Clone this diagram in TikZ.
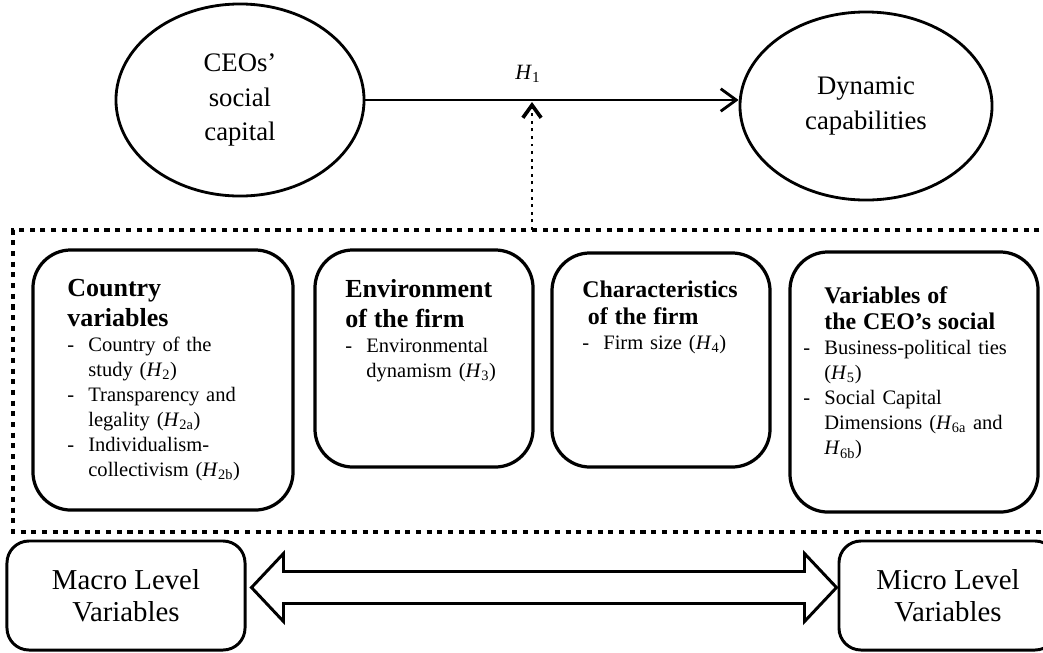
\documentclass[tikz,border=0pt]{standalone}
\usepackage{fontspec}
\setmainfont{Liberation Serif}
\usetikzlibrary{arrows.meta,calc,shapes.geometric}

\newcommand{\hyp}[1]{\textit{H}\textsubscript{#1}}
\newcommand{\itm}{\makebox[15pt][l]{-}}
\newcommand{\ind}{\hspace*{15pt}}
\newcommand{\boxfont}{\fontsize{14.6}{17.8}\selectfont\setlength{\parindent}{0pt}}
\newcommand{\titlebig}{\fontsize{18.5}{21.5}\selectfont\bfseries}
\newcommand{\titlesmall}{\fontsize{17}{19}\selectfont\bfseries}

\begin{document}
\begin{tikzpicture}[
            x=0.025cm, y=-0.025cm,
            main node/.style={ellipse,draw,line width=2pt,align=center,inner sep=0pt,font=\fontsize{19}{24.5}\selectfont},
            var box/.style={draw,line width=2.3pt,rounded corners=0.95cm,inner sep=0pt},
            level box/.style={draw,line width=2.1pt,rounded corners=0.55cm,align=center,inner sep=0pt,font=\fontsize{20.5}{22.5}\selectfont},
            box text/.style={anchor=north west,inner sep=0pt,text width=7cm,align=left,font=\boxfont},
            main arrow/.style={draw,line width=2pt,-{Straight Barb[length=11pt,width=16pt,line width=2pt]}},
            mod arrow/.style={draw,line width=2.1pt,dash pattern=on 2.1pt off 3.3pt,-{Straight Barb[length=9pt,width=13pt,line width=2.6pt]}},
            frame line/.style={draw,line width=3.5pt,dash pattern=on 3.6pt off 4pt},
            block arrow/.style={draw,line width=2.1pt,line join=miter},
        ]
            \useasboundingbox (0,0) rectangle (1043,652);
            \clip (0,0) rectangle (1043,652);

            % top: main relation
            \node[main node,minimum width=6.2cm,minimum height=4.8cm] (ceo) at (240,100) {CEOs’\\social\\capital};
            \node[main node,minimum width=6.3cm,minimum height=4.7cm] (dyn) at (866,106) {Dynamic\\capabilities};
            \node (h1) at (528,74) {\fontsize{15.5}{18}\selectfont\hyp{1}};
            \path[main arrow] (ceo.east) -- (ceo.east -| dyn.west);

            % moderators
            \coordinate (mod) at (532,230);
            \path[mod arrow] (mod) -- ++(0,-128);
            \path[frame line] (1050,230) -| (13,532) -- (1050,532);

            \node[var box,minimum width=6.5cm,minimum height=6.5cm] (country) at (163,380) {};
            \node[var box,minimum width=5.45cm,minimum height=5.425cm] (envir) at (424,358.5) {};
            \node[var box,minimum width=5.45cm,minimum height=5.35cm] (charac) at (661,360) {};
            \node[var box,minimum width=6.2cm,minimum height=6.5cm] (social) at (914,382) {};

            \node[box text] (country text) at (67,279) {{\titlebig Country\\variables\par}
                \itm Country of the\\\ind study (\hyp{2})\\
                \itm Transparency and\\\ind legality (\hyp{2a})\\
                \itm Individualism-\\\ind collectivism (\hyp{2b})};
            \node[box text] (envir text) at (345,279) {{\titlebig Environment\\of the firm\par}
                \itm Environmental\\\ind dynamism (\hyp{3})};
            \node[box text] (charac text) at (582,281) {{\titlesmall Characteristics\\\hspace*{4pt}of the firm\par}
                \itm Firm size (\hyp{4})};
            \node[box text] (social text) at (803,286) {{\titlesmall\ind Variables of\\\ind the CEO’s social\par}
                \itm Business-political ties\\\ind (\hyp{5})\\
                \itm Social Capital\\\ind Dimensions (\hyp{6a} and\\\ind \hyp{6b})};

            % bottom: levels
            \node[level box,minimum width=5.95cm,minimum height=2.725cm] (macro) at (126,595.5) {Macro Level\\Variables};
            \node[level box,minimum width=5.45cm,minimum height=2.725cm] (micro) at (948,595.5) {Micro Level\\Variables};

            \coordinate (lt) at ($(macro.east)+(5,-8)$);
            \coordinate (rt) at ($(micro.west)+(-1,-8)$);
            \path[block arrow] (lt) -- ++(32,-34) -- ++(0,18) -- ($(rt)+(-32,-16)$) -- ++(0,-18) -- (rt)
                -- ++(-32,34) -- ++(0,-18) -- ($(lt)+(32,16)$) -- ++(0,18) -- cycle;
        \end{tikzpicture}
\end{document}
